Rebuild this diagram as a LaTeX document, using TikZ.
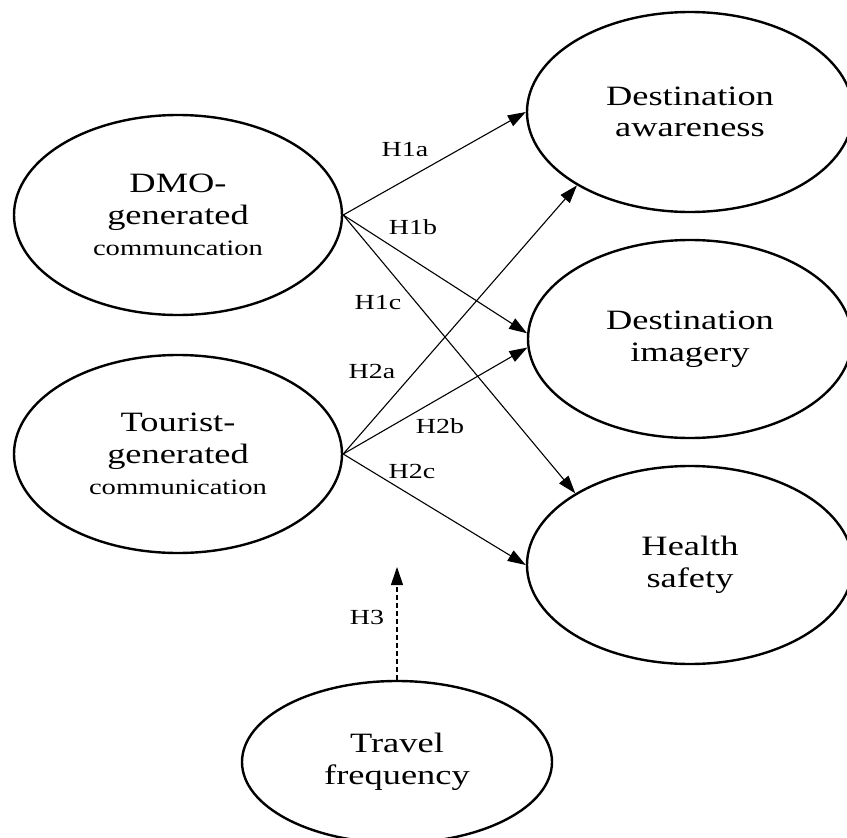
\documentclass[tikz,border=0pt]{standalone}
\usepackage{fontspec}
\setmainfont{Liberation Serif}[FakeStretch=1.3]
\usetikzlibrary{shapes.geometric,arrows.meta}
\tikzset{
  construct/.style={ellipse, draw, line width=2.4pt, inner sep=0pt, align=center,
    font=\fontsize{28}{31.5}\selectfont},
  hyp/.style={draw, line width=1.1pt, -{Triangle[length=18pt,width=12pt]}},
  hyplabel/.style={inner sep=0pt, font=\fontsize{21.5}{25}\selectfont}
}
\newcommand{\smalltext}[1]{{\fontsize{22}{25}\selectfont #1}}
\begin{document}
\begin{tikzpicture}[x=1pt,y=-1pt]
\useasboundingbox (0,0) rectangle (847,838);
\node[construct, minimum width=328pt, minimum height=200pt] (dmo) at (178,215)
  {DMO-\\generated\\\smalltext{communcation}};
\node[construct, minimum width=328pt, minimum height=198pt] (tgc) at (178,454)
  {Tourist-\\generated\\\smalltext{communication}};
\node[construct, minimum width=326pt, minimum height=200pt] (aw) at (690,112)
  {Destination\\awareness};
\node[construct, minimum width=324pt, minimum height=198pt] (im) at (690,339)
  {Destination\\imagery};
\node[construct, minimum width=326pt, minimum height=198pt] (hs) at (690,565)
  {Health\\safety};
\node[construct, minimum width=310pt, minimum height=162pt] (tf) at (397,762)
  {Travel\\frequency};
\coordinate (mod) at (397,567);

\draw[hyp] (dmo.east) -- (aw.west);
\draw[hyp] (dmo.east) -- (im.178);
\draw[hyp] (dmo.east) -- (hs.148);
\draw[hyp] (tgc.east) -- (aw.213);
\draw[hyp] (tgc.east) -- (im.183);
\draw[hyp] (tgc.east) -- (hs.west);
\draw[hyp, dash pattern=on 5pt off 3pt] (tf.north) -- (mod);

\node[hyplabel] (l1a) at (405,150) {H1a};
\node[hyplabel] (l1b) at (413,227) {H1b};
\node[hyplabel] (l1c) at (378,303) {H1c};
\node[hyplabel] (l2a) at (372,371) {H2a};
\node[hyplabel] (l2b) at (440,426) {H2b};
\node[hyplabel] (l2c) at (412,471) {H2c};
\node[hyplabel] (l3) at (367,617) {H3};
\end{tikzpicture}
\end{document}
